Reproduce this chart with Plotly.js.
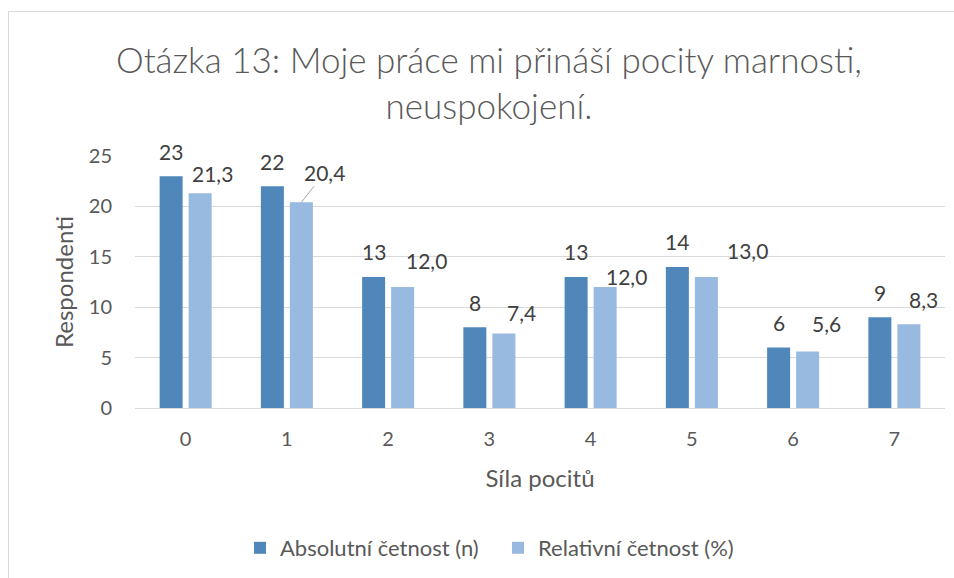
<!DOCTYPE html>
<html>
<head>
<meta charset="utf-8">
<script src="https://cdn.plot.ly/plotly-3.0.1.min.js"></script>
<style>
  html, body { margin: 0; padding: 0; overflow: hidden; background: #fff; }
  #chart { width: 954px; height: 578px; position: absolute; left: 0; top: 0; }
  #frame { position: absolute; left: 8px; top: 11px; width: 980px; height: 600px;
           border: 1px solid #D9D9D9; pointer-events: none; }
</style>
</head>
<body>
<div id="chart"></div>
<div id="frame"></div>
<script>
// ---- data ----
const categories = ['0', '1', '2', '3', '4', '5', '6', '7'];
const absoluteCounts = [23, 22, 13, 8, 13, 14, 6, 9];
const relativeCounts = [21.3, 20.4, 12.0, 7.4, 12.0, 13.0, 5.6, 8.3];
const seriesNames = ['Absolutní četnost (n)', 'Relativní četnost (%)'];
const titleText = 'Otázka 13: Moje práce mi přináší pocity marnosti,<br>neuspokojení.';
const xTitle = 'Síla pocitů';
const yTitle = 'Respondenti';

// ---- style (label offsets in pixels) ----
const FONT = 'Lato, "Open Sans", sans-serif';
const darkColor = '#4F87BA';
const lightColor = '#98B9E0';
const barHalf = 14.5;
const absDy = 25;
const relDx = [12, 23.5, 24, 18, 21.5, 41.5, 18.5, 14.5];
const relDy = [20, 30, 27, 21, 11, 26, 28, 25];
const relArrow = [false, true, false, false, false, false, false, false];
const labelFont = { family: FONT, size: 21, color: '#404040' };

const fmt = v => v.toFixed(1).replace('.', ',');

const traces = [
  { type: 'bar', name: seriesNames[0], x: categories, y: absoluteCounts,
    marker: { color: darkColor }, hoverinfo: 'none' },
  { type: 'bar', name: seriesNames[1], x: categories, y: relativeCounts,
    marker: { color: lightColor }, hoverinfo: 'none' }
];

const annotations = [];
categories.forEach((c, i) => {
  annotations.push({
    x: c, y: absoluteCounts[i], xref: 'x', yref: 'y',
    text: String(absoluteCounts[i]), showarrow: false,
    xshift: -barHalf, yshift: absDy, xanchor: 'center', yanchor: 'middle',
    font: labelFont
  });
  if (relArrow[i]) {
    annotations.push({
      x: c, y: relativeCounts[i], xref: 'x', yref: 'y',
      text: fmt(relativeCounts[i]), showarrow: true, arrowhead: 0,
      arrowwidth: 1, arrowcolor: '#A6A6A6', standoff: 0,
      ax: relDx[i], ay: -relDy[i], xshift: barHalf, yshift: 0,
      font: labelFont
    });
  } else {
    annotations.push({
      x: c, y: relativeCounts[i], xref: 'x', yref: 'y',
      text: fmt(relativeCounts[i]), showarrow: false,
      xshift: barHalf + relDx[i], yshift: relDy[i],
      xanchor: 'center', yanchor: 'middle',
      font: labelFont
    });
  }
});

const layout = {
  width: 954, height: 578,
  paper_bgcolor: 'rgba(0,0,0,0)', plot_bgcolor: '#fff',
  margin: { l: 135, r: 9, t: 156, b: 170, pad: 0 },
  font: { family: FONT, color: '#595959', size: 18 },
  title: {
    text: titleText, xref: 'container', yref: 'container',
    x: 489 / 954, xanchor: 'center', y: 1 - 73 / 578, yanchor: 'middle',
    font: { family: FONT, size: 35, color: '#595959', weight: 300 }
  },
  barmode: 'group', bargap: 0.427, bargroupgap: 0.207,
  xaxis: {
    type: 'category', showgrid: false, showline: true, linecolor: '#D9D9D9', linewidth: 1,
    ticks: '', tickfont: { family: FONT, size: 20, color: '#595959' },
    ticklabelstandoff: 13,
    title: { text: xTitle, standoff: 21, font: { family: FONT, size: 24, color: '#595959' } }
  },
  yaxis: {
    range: [0, 25], dtick: 5, tick0: 0, showgrid: true, gridcolor: '#D9D9D9', gridwidth: 1,
    zeroline: false, showline: false, ticks: '',
    tickfont: { family: FONT, size: 20, color: '#595959' },
    ticklabelstandoff: 22,
    title: { text: yTitle, standoff: 8, font: { family: FONT, size: 24, color: '#595959' } }
  },
  showlegend: true,
  legend: {
    orientation: 'h', xref: 'container', yref: 'container',
    x: 498 / 954, xanchor: 'center', y: 1 - 548 / 578, yanchor: 'middle',
    font: { family: FONT, size: 22, color: '#595959' },
    itemwidth: 30, entrywidth: 213, traceorder: 'normal', bgcolor: 'rgba(0,0,0,0)'
  },
  annotations: annotations
};

Plotly.newPlot('chart', traces, layout, { staticPlot: true, displayModeBar: false });
</script>
</body>
</html>
